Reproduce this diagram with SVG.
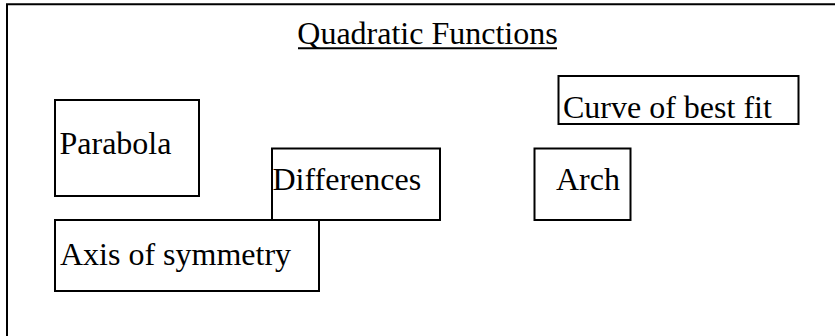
<svg xmlns="http://www.w3.org/2000/svg" width="835" height="336" viewBox="0 0 835 336">
<style>
.box{fill:none;stroke:#000;stroke-width:2}
.t{font-family:"Liberation Serif","Times New Roman",serif;font-size:32px;fill:#000}
</style>
<rect width="835" height="336" fill="#fff"/>
<path d="M7,340 V4.3 H840" fill="none" stroke="#000" stroke-width="2"/>
<g id="title">
<text class="t" x="427.5" y="44" text-anchor="middle">Quadratic Functions</text>
<line x1="298" y1="48.3" x2="557" y2="48.3" stroke="#000" stroke-width="2"/>
</g>
<g id="parabola">
<rect class="box" x="55" y="100" width="144" height="96"/>
<text class="t" x="59.5" y="154">Parabola</text>
</g>
<g id="differences">
<rect class="box" x="272" y="148.5" width="168" height="71.5"/>
<text class="t" x="272.5" y="190">Differences</text>
</g>
<g id="axis">
<rect class="box" x="55" y="220" width="264" height="71"/>
<text class="t" x="60" y="265">Axis of symmetry</text>
</g>
<g id="arch">
<rect class="box" x="534.5" y="148.5" width="96" height="71.5"/>
<text class="t" x="556" y="190">Arch</text>
</g>
<g id="curve">
<rect class="box" x="558.5" y="76" width="240" height="48"/>
<text class="t" x="563" y="118">Curve of best fit</text>
</g>
<g id="connectors"></g>
</svg>
